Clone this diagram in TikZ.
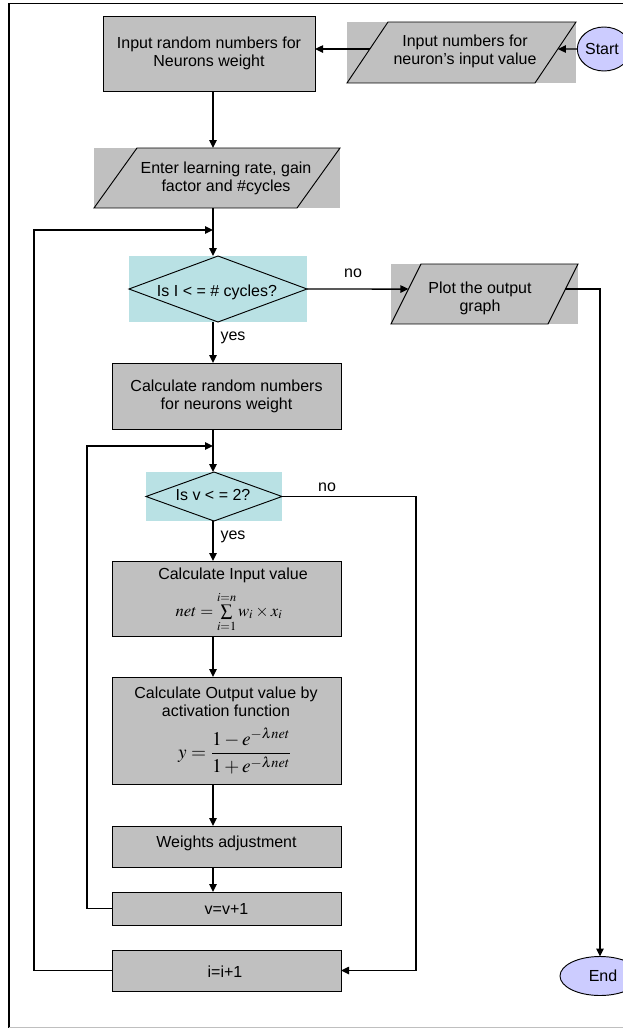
\documentclass[tikz,border=0pt]{standalone}
\usepackage{mathptmx}
\usepackage[no-math]{fontspec}
\setmainfont{Liberation Sans}
\usetikzlibrary{arrows.meta,calc,shapes.geometric}
\definecolor{boxgray}{RGB}{192,192,192}
\definecolor{decblue}{RGB}{185,225,228}
\definecolor{lav}{RGB}{204,204,255}
\begin{document}
\begin{tikzpicture}[x=0.75pt,y=-0.75pt,
  every node/.style={font=\fontsize{12}{13.5}\selectfont, inner sep=0pt, outer sep=0pt},
  procbox/.style={draw=black, fill=boxgray, line width=0.7pt, minimum width=171.75pt, align=center},
  iobg/.style={fill=boxgray},
  decbg/.style={fill=decblue},
  outline/.style={draw=black, line width=0.7pt},
  term/.style={ellipse, draw=black, fill=lav, line width=0.7pt},
  arr/.style={line width=1.1pt, -{Triangle[length=6pt,width=5.5pt]}},
  txt/.style={align=center}
]
\useasboundingbox (0,0) rectangle (623,1028);
\clip (0,0) rectangle (623,1028);
% frame
\draw[line width=1pt] (9,1030) -- (9,3.5) -- (640,3.5);
\draw[black!25, line width=0.6pt] (9,1027) -- (640,1027);

% main axis
\coordinate (mx) at (213,0);

% box 1
\node[procbox, minimum width=159pt, minimum height=56.25pt] (b1) at (209,53.5) {Input random numbers for\\Neurons weight};

% parallelogram 1
\node[iobg, minimum width=171.75pt, minimum height=45.75pt] (p1) at (461.5,52.5) {};
\coordinate (p1a) at ($(p1.north west)+(41,0)$);
\coordinate (p1b) at ($(p1.south east)+(-41,0)$);
\draw[outline] (p1.south west) -- (p1a) -- (p1.north east) -- (p1b) -- cycle;
\node[txt] (p1t) at (465,51) {Input numbers for\\neuron’s input value};
\coordinate (p1l) at ($(p1.south west)!0.557!(p1a)$);
\coordinate (p1r) at ($(p1b)!0.557!(p1.north east)$);

% start
\node[term, minimum width=40pt, minimum height=33pt] (start) at (604,49) {};
\node (startt) at (602,49) {Start};

% parallelogram 2
\node[iobg, minimum width=184.5pt, minimum height=45pt] (p2) at (217,178) {};
\coordinate (p2a) at ($(p2.north west)+(43,0)$);
\coordinate (p2b) at ($(p2.south east)+(-43,0)$);
\draw[outline] (p2.south west) -- (p2a) -- (p2.north east) -- (p2b) -- cycle;
\node[txt] (p2t) at (226,178) {Enter learning rate, gain\\factor and \#cycles};

% decision 1
\node[decbg, minimum width=133.5pt, minimum height=49.5pt] (d1) at (218,289) {};
\draw[outline] (d1.west) -- (d1.north) -- (d1.east) -- (d1.south) -- cycle;
\node (d1t) at (217,292) {Is I < = \# cycles?};

% parallelogram 3
\node[iobg, minimum width=140.25pt, minimum height=45pt] (p3) at (484.5,294) {};
\coordinate (p3a) at ($(p3.north west)+(30,0)$);
\coordinate (p3b) at ($(p3.south east)+(-30,0)$);
\draw[outline] (p3.south west) -- (p3a) -- (p3.north east) -- (p3b) -- cycle;
\node[txt] (p3t) at (480,298) {Plot the output\\graph};
\coordinate (p3l) at ($(p3.south west)!0.583!(p3a)$);
\coordinate (p3r) at ($(p3b)!0.583!(p3.north east)$);

% box 2
\node[procbox, minimum height=49.5pt] (b2) at (226.5,396) {Calculate random numbers\\for neurons weight};

% decision 2
\node[decbg, minimum width=102pt, minimum height=36.75pt] (d2) at (214,496.5) {};
\draw[outline] (d2.west) -- (d2.north) -- (d2.east) -- (d2.south) -- cycle;
\node (d2t) at (213,495) {Is v < = 2?};

% box 3
\node[procbox, minimum height=56.25pt] (b3) at (226.5,598.5) {};
\node (b3t) at (233,575) {Calculate Input value};
\node (b3f) at (229,612) {\fontsize{12.5}{15}\selectfont$net = \sum\limits_{i=1}^{i=n} w_i \times x_i$};

% box 4
\node[procbox, minimum height=80.25pt] (b4) at (226.5,730.5) {};
\node[txt] (b4t) at (226,702) {Calculate Output value by\\activation function};
\node (b4f) at (235,751) {\fontsize{14.5}{17}\selectfont$\displaystyle y=\frac{1-e^{-\lambda net}}{1+e^{-\lambda net}}$};

% box 5
\node[procbox, minimum height=30.75pt] (b5) at (226.5,846.5) {};
\node (b5t) at (226.5,843) {Weights adjustment};

% v=v+1
\node[procbox, minimum height=24.75pt] (v1) at (226.5,908.5) {v=v+1};

% i=i+1
\node[procbox, minimum height=30.75pt] (i1) at (226.5,970.5) {};
\node (i1t) at (225,972) {i=i+1};

% end
\node[term, minimum width=60pt, minimum height=29.25pt] (end) at (600,976) {};
\node (endt) at (603,976) {End};

% labels
\node (no1) at (353,273) {no};
\node (yes1) at (233,338) {yes};
\node (no2) at (327,487) {no};
\node (yes2) at (233,537) {yes};

% connectors
\draw[arr] (start.west) -- (p1r);
\draw[arr] (p1l) -- (p1l -| b1.east);
\draw[arr] (b1.south -| mx) -- (p2.north -| mx);
\draw[arr] (p2.south -| mx) -- (d1.north -| mx);
\draw[arr] (d1.east) -- (p3l);
\draw[arr] (p3r) -- (p3r -| end.north) -- (end.north);
\draw[arr] (d1.south -| mx) -- (b2.north -| mx);
\draw[arr] (b2.south -| mx) -- (d2.north -| mx);
\draw[arr] (d2.south -| mx) -- (b3.north -| mx);
\draw[arr] (b3.south -| mx) -- (b4.north -| mx);
\draw[arr] (b4.south -| mx) -- (b5.north -| mx);
\draw[arr] (b5.south -| mx) -- (v1.north -| mx);
\coordinate (lp2) at (87,446);
\draw[arr] (v1.west) -- (v1.west -| lp2) -- (lp2) -- (lp2 -| mx);
\coordinate (lp1) at (34,230);
\draw[arr] (i1.west) -- (i1.west -| lp1) -- (lp1) -- (lp1 -| mx);
\coordinate (rx2) at (416,0);
\draw[arr] (d2.east) -- (d2.east -| rx2) -- (rx2 |- i1.east) -- (i1.east);
\end{tikzpicture}
\end{document}
